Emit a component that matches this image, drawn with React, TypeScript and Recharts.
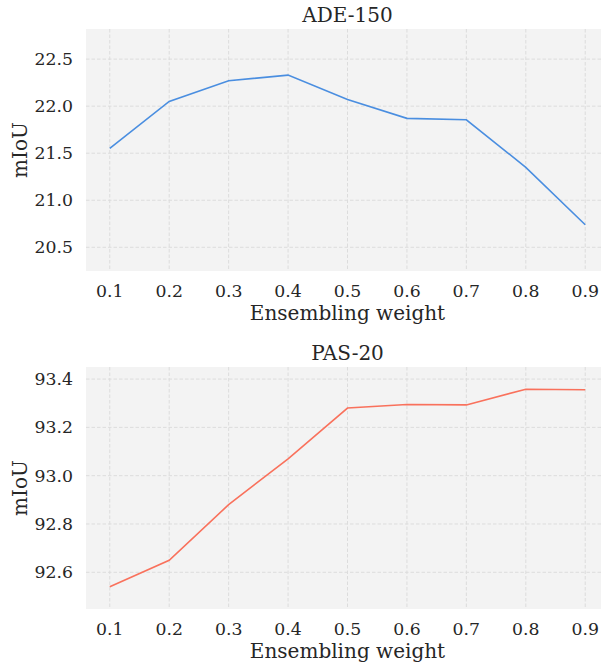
import React from 'react';
import { LineChart, Line, XAxis, YAxis, CartesianGrid, Label } from 'recharts';

// Ensembling weights on the x axis
const weights = [0.1, 0.2, 0.3, 0.4, 0.5, 0.6, 0.7, 0.8, 0.9];
// mIoU per weight
const ade150 = [21.55, 22.05, 22.27, 22.33, 22.07, 21.87, 21.855, 21.35, 20.74];
const pas20 = [92.54, 92.65, 92.88, 93.07, 93.28, 93.295, 93.293, 93.358, 93.356];
// Tick labels
const adeTicks = [20.5, 21.0, 21.5, 22.0, 22.5];
const pasTicks = [92.6, 92.8, 93.0, 93.2, 93.4];

const FONT = '"DejaVu Serif", serif';
const TEXT = '#262626';
const tickStyle = { fontFamily: FONT, fontSize: 17.3 };
const labelStyle = { fontFamily: FONT, fontSize: 20 };

const XTick = (p: any) => (
  <text x={p.x} y={p.y + 14} textAnchor="middle" fill={TEXT} style={tickStyle}>
    {Number(p.payload.value).toFixed(1)}
  </text>
);

const YTick = (p: any) => (
  <text x={p.x} y={p.y + 6} textAnchor="end" fill={TEXT} style={tickStyle}>
    {Number(p.payload.value).toFixed(1)}
  </text>
);

type PanelProps = {
  title: string;
  values: number[];
  color: string;
  domain: [number, number];
  ticks: number[];
  top: number;
};

function Panel({ title, values, color, domain, ticks, top }: PanelProps) {
  const rows = weights.map((w, i) => ({ w, v: values[i] }));
  const W = 620;
  const H = 335;
  const plotTop = 29;
  const plotH = 242;
  return (
    <div style={{ position: 'absolute', left: 0, top, width: W, height: H }}>
      <LineChart
        width={W}
        height={H}
        data={rows}
        margin={{ top: plotTop, right: W - 609, left: 0, bottom: 0 }}
        style={{ fontFamily: FONT }}
      >
        <CartesianGrid
          fill="#f3f3f3"
          stroke="#dcdcdc"
          strokeDasharray="3.5 2"
          strokeWidth={1}
          verticalValues={weights}
          horizontalValues={ticks}
        />
        <XAxis
          dataKey="w"
          type="number"
          domain={[0.06, 0.94]}
          ticks={weights}
          axisLine={false}
          tickLine={false}
          tickSize={0}
          tickMargin={12}
          height={H - plotTop - plotH}
          tick={XTick}
          allowDataOverflow
        >
          <Label
            content={(p: any) => {
              const vb = p.viewBox;
              return (
                <text x={347.5} y={vb.y + 49} textAnchor="middle" fill={TEXT} style={labelStyle}>
                  Ensembling weight
                </text>
              );
            }}
          />
        </XAxis>
        <YAxis
          type="number"
          domain={domain}
          ticks={ticks}
          axisLine={false}
          tickLine={false}
          tickSize={0}
          tickMargin={13}
          width={86}
          tick={YTick}
          allowDataOverflow
        >
          <Label
            content={(p: any) => {
              const vb = p.viewBox;
              const cy = vb.y + vb.height / 2;
              return (
                <g>
                  <text
                    x={27}
                    y={cy}
                    transform={`rotate(-90 27 ${cy})`}
                    textAnchor="middle"
                    fill={TEXT}
                    style={labelStyle}
                  >
                    mIoU
                  </text>
                  <text x={347.5} y={vb.y - 7} textAnchor="middle" fill={TEXT} style={labelStyle}>
                    {title}
                  </text>
                </g>
              );
            }}
          />
        </YAxis>
        <Line
          type="linear"
          dataKey="v"
          stroke={color}
          strokeWidth={1.6}
          dot={false}
          isAnimationActive={false}
        />
      </LineChart>
    </div>
  );
}

export default function App() {
  return (
    <div
      style={{
        position: 'fixed',
        left: 0,
        top: 0,
        width: 601,
        height: 664,
        overflow: 'hidden',
        background: '#ffffff',
      }}
    >
      <Panel
        title="ADE-150"
        values={ade150}
        color="#4a8ee0"
        domain={[20.248, 22.82]}
        ticks={adeTicks}
        top={0}
      />
      <Panel
        title="PAS-20"
        values={pas20}
        color="#f9715c"
        domain={[92.448, 93.45]}
        ticks={pasTicks}
        top={338}
      />
    </div>
  );
}
